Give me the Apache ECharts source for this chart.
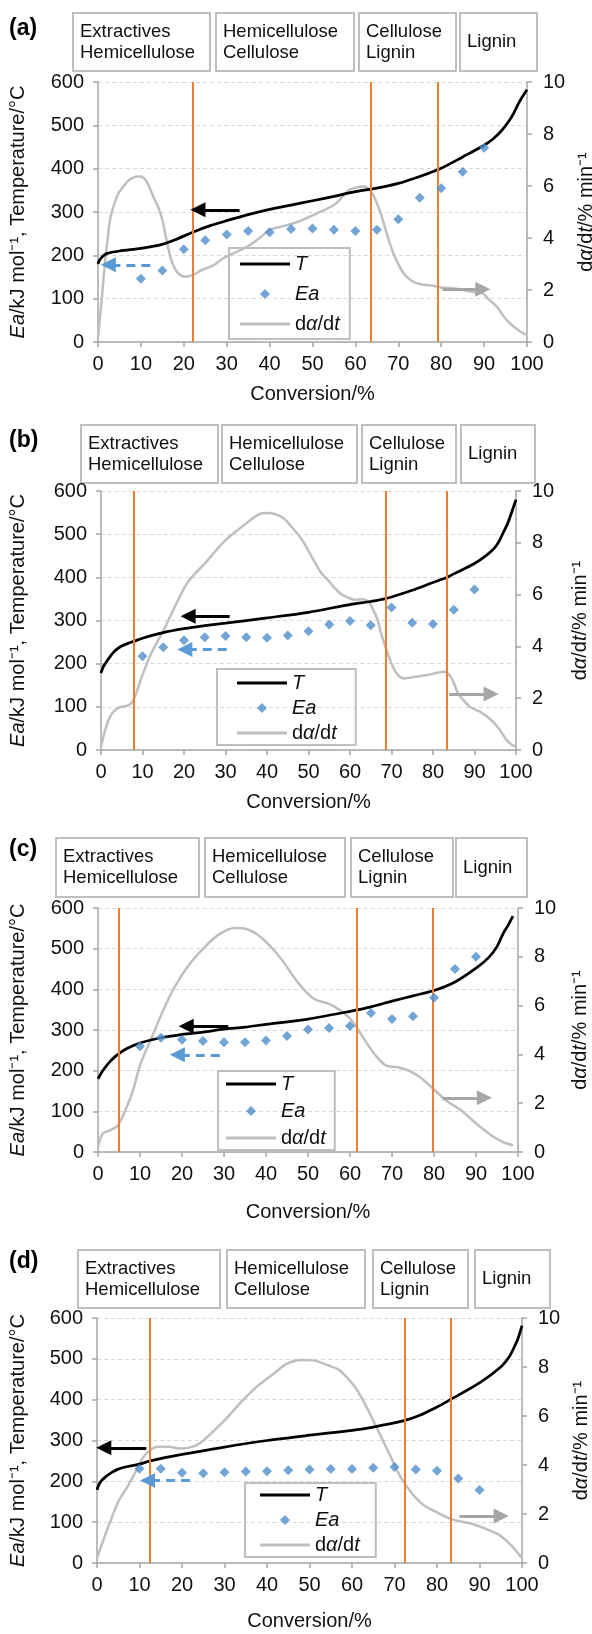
<!DOCTYPE html>
<html>
<head>
<meta charset="utf-8">
<script src="https://cdn.jsdelivr.net/npm/echarts@6/dist/echarts.min.js"></script>
<style>
  html, body { margin: 0; padding: 0; background: #fff; }
  #chart { width: 592px; height: 1634px; }
</style>
</head>
<body>
<div id="chart"></div>
<script>
// stage labels shown in the boxes above every panel
const stageLabels = ['Extractives\nHemicellulose', 'Hemicellulose\nCellulose', 'Cellulose\nLignin', 'Lignin'];

// activation energy, read every 5 % conversion
const eaConversion = [10, 15, 20, 25, 30, 35, 40, 45, 50, 55, 60, 65, 70, 75, 80, 85, 90];
const eaA = [146, 165, 214, 235, 248, 256, 253, 261, 262, 259, 256, 259, 283, 333, 355, 393, 448];
const eaB = [217, 238, 254, 261, 264, 261, 260, 265, 275, 291, 299, 289, 330, 295, 292, 325, 372];
const eaC = [260, 281, 276, 273, 270, 270, 274, 285, 301, 305, 310, 342, 327, 334, 379, 450, 480];
const eaD = [231, 231, 221, 220, 222, 224, 225, 227, 229, 230, 230, 233, 235, 229, 226, 207, 179];

// temperature vs conversion [conversion %, °C]
const tempA = [[0,180],[0.3,188],[1,197],[2,204],[5,210],[10,216],[14.5,224],[18,236],[22.2,254],[26,268],[30,280],[35,294],[40,306],[45,316],[50,326],[55,336],[60,347],[65,355],[70,366],[75,382],[80,401],[85,427],[90,454],[92,468],[94,487],[96,513],[97,530],[98,550],[99,567],[100,582]];
const tempB = [[0,178],[0.5,192],[1,200],[2,214],[3,226],[4,235],[5,241],[6.5,247],[8,252],[10,259],[15,272],[20,281],[25,288],[30,294],[40,306],[50,319],[60,337],[65,344],[68.7,351],[75,370],[80,388],[83.4,400],[85,408],[90,432],[93,452],[95,470],[96,485],[97,505],[98,525],[99,552],[100,580]];
const tempC = [[0,180],[1,198],[2,212],[3,224],[4,234],[5,242],[7,255],[10,268],[15,281],[20,289],[25,295],[30,302],[35,307],[40,314],[50,327],[60,346],[65,357],[70,371],[75,384],[80,397],[85,418],[90,452],[93,478],[95,505],[96.4,536],[97.5,555],[98.8,580]];
const tempD = [[0,179],[0.5,193],[1,201],[2,211],[3.5,222],[5,230],[7.5,237],[10,242],[12.5,250],[20,266],[30,284],[40,300],[50,313],[60,325],[65,333],[72,348],[76,362],[80,382],[83.3,401],[90,441],[95,480],[97,505],[98,525],[99,548],[100,581]];

// conversion rate dα/dt [conversion %, % min-1]
const rateA = [[0,0.2],[0.5,1.0],[1,1.9],[1.6,3.0],[2.2,3.9],[2.8,4.7],[3.5,5.15],[4.7,5.7],[6,6.0],[7,6.2],[8,6.3],[9,6.37],[10,6.37],[11,6.25],[12,5.95],[13,5.55],[14,5.2],[15,4.7],[16,3.9],[17,3.2],[18,2.8],[19,2.6],[20.3,2.51],[22.2,2.58],[24,2.75],[27,2.96],[29,3.2],[31.5,3.41],[34,3.6],[36,3.8],[38,4.05],[40,4.31],[43,4.45],[45.4,4.56],[48,4.72],[51,4.95],[55,5.27],[56.5,5.5],[58.6,5.85],[61,5.97],[62,5.98],[63,5.9],[64,5.7],[65,5.35],[66,4.9],[67,4.35],[68,3.8],[69,3.35],[70,3.0],[71,2.7],[72,2.5],[74,2.27],[76,2.2],[78,2.16],[80,2.1],[82,2.08],[84,2.04],[86,1.97],[88,1.9],[89.7,1.87],[91,1.65],[93,1.35],[94.5,1.0],[96,0.72],[98,0.45],[99.5,0.31],[100,0.28]];
const rateB = [[0,0.13],[1,0.77],[2.2,1.29],[3.4,1.54],[4.5,1.65],[5.5,1.68],[6.5,1.72],[7.5,1.85],[8.5,2.2],[10,2.9],[12,3.7],[15,4.6],[18,5.6],[21,6.5],[25,7.2],[30,8.1],[35,8.75],[38,9.1],[40,9.15],[42,9.1],[44,8.95],[46,8.6],[48.5,8.1],[51,7.4],[53,6.85],[55,6.5],[57.6,6.05],[60,5.85],[61.5,5.8],[63,5.82],[64.5,5.72],[65.5,5.45],[66.7,5.0],[67.5,4.5],[68.5,4.0],[69.5,3.55],[70.4,3.2],[71.5,2.9],[73,2.76],[75.8,2.83],[79.5,2.92],[81,2.98],[82.7,3.02],[84,2.89],[85,2.6],[86,2.2],[87.7,1.86],[89,1.65],[91.3,1.48],[94,1.16],[96,0.8],[97.7,0.39],[99,0.2],[100,0.13]];
const rateC = [[0,0.2],[1.1,0.75],[2.9,0.89],[4.7,1.09],[6.5,1.7],[8.3,2.5],[10.1,3.6],[12.8,4.7],[15.5,5.8],[18.2,6.75],[21.8,7.7],[25.4,8.4],[29,8.94],[32.6,9.18],[35.3,9.14],[38.8,8.8],[43.3,7.98],[47.8,6.9],[51.4,6.28],[55,6.07],[57.7,5.8],[60.4,5.39],[63.1,4.7],[65.8,4.02],[68.5,3.55],[71.2,3.48],[73.9,3.34],[76.6,3.07],[79.8,2.59],[82.9,2.11],[86.5,1.7],[90.1,1.16],[93.7,0.68],[96.4,0.41],[98.8,0.27]];
const rateD = [[0,0.2],[1.5,0.94],[3,1.63],[5,2.5],[7.1,3.1],[8.9,3.66],[10.7,4.27],[12.5,4.6],[14.3,4.74],[17,4.74],[19.6,4.67],[22.3,4.74],[24.1,4.88],[26.8,5.28],[30.4,5.89],[33.9,6.57],[37.5,7.18],[41.1,7.66],[44.6,8.13],[48.2,8.29],[50.9,8.27],[54.5,8.06],[57.1,7.86],[60.7,7.18],[63.4,6.37],[66.1,5.42],[68.75,4.47],[71.4,3.52],[74.1,2.85],[76.8,2.37],[80.4,2.03],[83.9,1.76],[87.5,1.63],[91.1,1.42],[94.6,1.15],[97.3,0.75],[100,0.2]];

// stage boundaries (conversion %)
const stagesA = [22.2, 63.5, 79.2];
const stagesB = [7.9, 68.7, 83.4];
const stagesC = [5.0, 61.5, 79.8];
const stagesD = [12.5, 72.3, 83.3];

const FONT = "'Liberation Sans', Arial, sans-serif";
const AXIS = '#a6a6a6';
const TXT = '#111';
const BLUE = '#4f8fcc';
const GREY = '#bfbfbf';

// legend icons drawn in a 50x10 box (the leading moves fix the box size)
const LINE_ICON = 'path://M0,0M50,10M0,3.6H50V6.4H0Z';
const DIAMOND_ICON = 'path://M0,0M50,10M25,0L30,5L25,10L20,5Z';

const panels = [
  { tag: '(a)', tagY: 29, grid: {left: 98, top: 82, width: 429, height: 260}, xGap: 42,
    boxY: 13, boxH: 58, boxes: [[73,137],[216,138],[359,97],[460,77]],
    legend: {left: 229, top: 248, gap: 10, padding: [6, 10, 5, 11]},
    temp: tempA, ea: eaA, rate: rateA, stages: stagesA,
    arrowT: [33, 23.3, 305], arrowEa: [12.2, 2.4, 178], arrowRate: [80.3, 89.7, 2.03] },
  { tag: '(b)', tagY: 441, grid: {left: 101, top: 491, width: 415, height: 259}, xGap: 42,
    boxY: 425, boxH: 58, boxes: [[81,137],[222,135],[362,94],[461,74]],
    legend: {left: 217, top: 669, gap: 5, padding: [4, 19, 2, 20]},
    temp: tempB, ea: eaB, rate: rateB, stages: stagesB,
    arrowT: [31, 21, 310], arrowEa: [30.3, 20.2, 233], arrowRate: [83.9, 94, 2.16] },
  { tag: '(c)', tagY: 850, grid: {left: 98, top: 908, width: 420, height: 244}, xGap: 50,
    boxY: 838, boxH: 59, boxes: [[56,143],[205,140],[351,102],[456,71]],
    legend: {left: 218, top: 1071, gap: 7, padding: [3, 9, 2, 8]},
    temp: tempC, ea: eaC, rate: rateC, stages: stagesC,
    arrowT: [31, 21, 309], arrowEa: [29, 18.9, 239], arrowRate: [82, 92, 2.22] },
  { tag: '(d)', tagY: 1262, grid: {left: 97, top: 1318, width: 425, height: 245}, xGap: 48,
    boxY: 1250, boxH: 58, boxes: [[78,142],[227,138],[373,95],[475,75]],
    legend: {left: 245, top: 1483, gap: 5, padding: [2, 16, 2, 15]},
    temp: tempD, ea: eaD, rate: rateD, stages: stagesD,
    arrowT: [11.6, 1.6, 282], arrowEa: [21.9, 11.9, 202], arrowRate: [85.3, 95.1, 1.92] }
];

const legendLabel = { 'T': '{i|T}', 'Ea': '{i|Ea}', 'dα/dt': 'd{i|α}/d{i|t}' };
const richItalic = { i: { fontStyle: 'italic', fontSize: 20, fontFamily: FONT, color: TXT, lineHeight: 20 } };

function arrow(x1, x2, y, color, dashed) {
  return [
    { coord: [x1, y], symbol: 'none',
      lineStyle: { color: color, width: 3, type: dashed ? [9, 6] : 'solid' } },
    { coord: [x2, y], symbol: 'triangle', symbolSize: 15, itemStyle: { color: color } }
  ];
}

const grids = [], xAxes = [], yAxes = [], series = [], legends = [], graphics = [];

panels.forEach((p, i) => {
  const g = p.grid;
  grids.push({ left: g.left, top: g.top, width: g.width, height: g.height, containLabel: false, outerBoundsMode: 'none' });

  xAxes.push({
    type: 'value', gridIndex: i, min: 0, max: 100, interval: 10,
    name: 'Conversion/%', nameLocation: 'middle', nameGap: p.xGap,
    nameTextStyle: { fontSize: 20, fontFamily: FONT, color: TXT },
    axisLine: { show: true, onZero: false, lineStyle: { color: AXIS, width: 1.5 } },
    axisTick: { show: true, length: 5, lineStyle: { color: AXIS, width: 1.5 } },
    axisLabel: { fontSize: 20, fontFamily: FONT, color: TXT, margin: 12 },
    splitLine: { show: false }
  });

  yAxes.push({
    type: 'value', gridIndex: i, position: 'left', min: 0, max: 600, interval: 100,
    name: '{i|Ea}/kJ mol⁻¹, Temperature/°C', nameLocation: 'middle', nameRotate: 90,
    nameGap: g.left - 28,
    nameTextStyle: { fontSize: 20, fontFamily: FONT, color: TXT, rich: richItalic },
    axisLine: { show: true, onZero: false, lineStyle: { color: AXIS, width: 1.5 } },
    axisTick: { show: true, length: 5, lineStyle: { color: AXIS, width: 1.5 } },
    axisLabel: { fontSize: 20, fontFamily: FONT, color: TXT, margin: 14 },
    splitLine: { show: true, lineStyle: { color: '#d9d9d9', width: 1, type: [4, 3] } }
  });

  yAxes.push({
    type: 'value', gridIndex: i, position: 'right', min: 0, max: 10, interval: 2,
    name: 'd{i|α}/d{i|t}/% min⁻¹', nameLocation: 'middle', nameRotate: 90,
    nameGap: 570 - (g.left + g.width),
    nameTextStyle: { fontSize: 20, fontFamily: FONT, color: TXT, rich: richItalic },
    axisLine: { show: true, onZero: false, lineStyle: { color: AXIS, width: 1.5 } },
    axisTick: { show: true, length: 5, lineStyle: { color: AXIS, width: 1.5 } },
    axisLabel: { fontSize: 20, fontFamily: FONT, color: TXT, margin: 16 },
    splitLine: { show: false }
  });

  const yl = 2 * i, yr = 2 * i + 1;

  series.push({
    name: 'dα/dt', type: 'line', xAxisIndex: i, yAxisIndex: yr,
    data: p.rate, smooth: 0.3, symbol: 'none', z: 2,
    lineStyle: { color: GREY, width: 2.5 }, itemStyle: { color: GREY },
    markLine: { silent: true, animation: false, label: { show: false },
      data: [arrow(p.arrowRate[0], p.arrowRate[1], p.arrowRate[2], '#a6a6a6', false)] }
  });

  series.push({
    name: 'Ea', type: 'scatter', xAxisIndex: i, yAxisIndex: yl,
    data: eaConversion.map((c, k) => [c, p.ea[k]]),
    symbol: 'diamond', symbolSize: 10, z: 5,
    itemStyle: { color: BLUE },
    markLine: { silent: true, animation: false, symbol: ['none', 'none'], label: { show: false },
      lineStyle: { color: '#ed7d31', width: 2, type: 'solid' },
      data: p.stages.map(v => ({ xAxis: v })) }
  });

  series.push({
    name: 'T', type: 'line', xAxisIndex: i, yAxisIndex: yl,
    data: p.temp, smooth: 0.3, symbol: 'none', z: 4,
    lineStyle: { color: '#000', width: 2.75 }, itemStyle: { color: '#000' },
    markLine: { silent: true, animation: false, label: { show: false },
      data: [arrow(p.arrowT[0], p.arrowT[1], p.arrowT[2], '#000', false),
             arrow(p.arrowEa[0], p.arrowEa[1], p.arrowEa[2], '#5b9bd5', true)] }
  });

  legends.push({
    orient: 'vertical', left: p.legend.left, top: p.legend.top,
    data: [
      { name: 'T', icon: LINE_ICON, itemStyle: { color: '#000', borderWidth: 0 } },
      { name: 'Ea', icon: DIAMOND_ICON, itemStyle: { color: BLUE, borderWidth: 0 } },
      { name: 'dα/dt', icon: LINE_ICON, itemStyle: { color: GREY, borderWidth: 0 } }
    ],
    selectedMode: false,
    itemWidth: 50, itemHeight: 10, itemGap: p.legend.gap, padding: p.legend.padding,
    borderColor: '#bfbfbf', borderWidth: 2, backgroundColor: 'transparent',
    formatter: n => legendLabel[n],
    textStyle: { fontSize: 20, fontFamily: FONT, color: TXT, lineHeight: 20, rich: richItalic }
  });

  graphics.push({ type: 'text', x: 9, y: p.tagY,
    style: { text: p.tag, fontSize: 23, fontWeight: 'bold', fontFamily: FONT, fill: '#000', verticalAlign: 'middle' } });

  p.boxes.forEach((b, k) => {
    graphics.push({ type: 'rect', shape: { x: b[0], y: p.boxY, width: b[1], height: p.boxH },
      style: { fill: '#fff', stroke: '#bfbfbf', lineWidth: 2 } });
    graphics.push({ type: 'text', x: b[0] + 7, y: p.boxY + p.boxH / 2,
      style: { text: stageLabels[k], fontSize: 18.5, fontFamily: FONT, fill: TXT,
        verticalAlign: 'middle', lineHeight: 21 } });
  });
});

const chart = echarts.init(document.getElementById('chart'));
chart.setOption({
  animation: false,
  backgroundColor: '#fff',
  grid: grids,
  xAxis: xAxes,
  yAxis: yAxes,
  legend: legends,
  graphic: graphics,
  series: series
});
</script>
</body>
</html>
